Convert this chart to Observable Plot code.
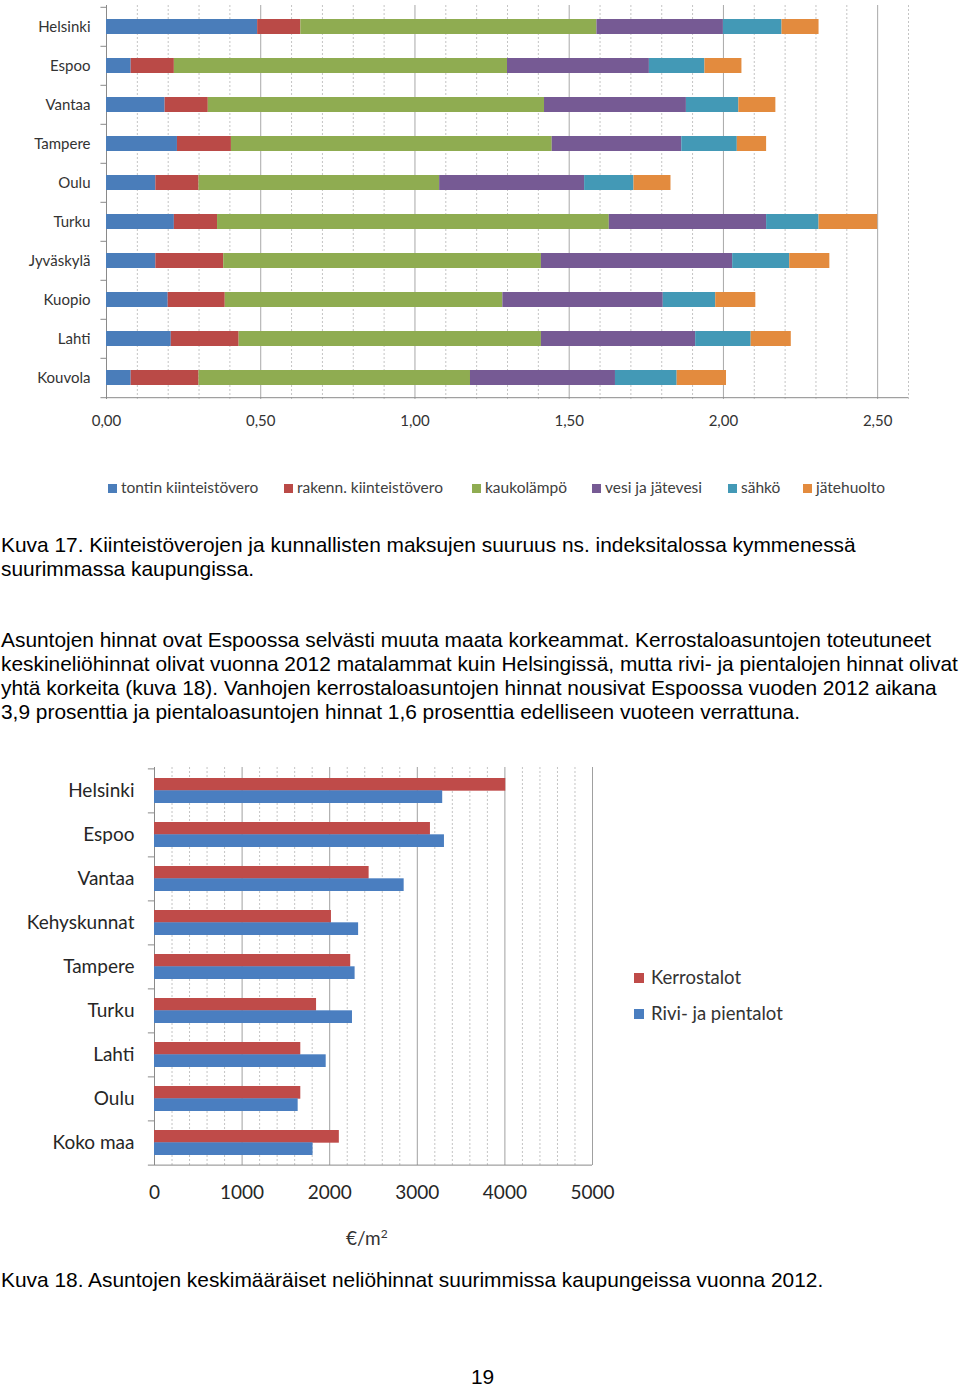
<!DOCTYPE html>
<html><head><meta charset="utf-8">
<script src="https://cdn.jsdelivr.net/npm/d3@7"></script>
<script src="https://cdn.jsdelivr.net/npm/@observablehq/plot@0.6"></script>
<style>
html,body{margin:0;padding:0;background:#fff;}
body{width:960px;height:1387px;position:relative;overflow:hidden;font-family:"Liberation Sans",Arial,sans-serif;}
.abs{position:absolute;white-space:nowrap;}
.para{font-size:20.9px;line-height:24px;color:#000;left:1px;}
.leg1{font-family:Lato,sans-serif;font-size:15.5px;color:#404040;line-height:18px;}
.leg2{font-family:Lato,sans-serif;font-size:18.5px;color:#333;line-height:22px;}
.sw{display:inline-block;width:9px;height:9px;margin-right:4px;vertical-align:0px;}
.sw2{display:inline-block;width:10px;height:10px;margin-right:7px;vertical-align:1px;}
</style></head><body>
<div id="c1" class="abs" style="left:0;top:0"></div>
<div id="leg1"></div>
<div class="abs para" style="top:533px">Kuva 17. Kiinteistöverojen ja kunnallisten maksujen suuruus ns. indeksitalossa kymmenessä</div>
<div class="abs para" style="top:557px">suurimmassa kaupungissa.</div>
<div class="abs para" style="top:628px">Asuntojen hinnat ovat Espoossa selvästi muuta maata korkeammat. Kerrostaloasuntojen toteutuneet</div>
<div class="abs para" style="top:652px">keskineliöhinnat olivat vuonna 2012 matalammat kuin Helsingissä, mutta rivi- ja pientalojen hinnat olivat</div>
<div class="abs para" style="top:676px">yhtä korkeita (kuva 18). Vanhojen kerrostaloasuntojen hinnat nousivat Espoossa vuoden 2012 aikana</div>
<div class="abs para" style="top:700px">3,9 prosenttia ja pientaloasuntojen hinnat 1,6 prosenttia edelliseen vuoteen verrattuna.</div>
<div id="c2" class="abs" style="left:0;top:760px"></div>
<div id="leg2"></div>
<div class="abs leg2" style="left:346px;top:1223px;font-size:19px;">€/m<sup style="font-size:12px">2</sup></div>
<div class="abs para" style="top:1268px">Kuva 18. Asuntojen keskimääräiset neliöhinnat suurimmissa kaupungeissa vuonna 2012.</div>
<div class="abs para" style="top:1365px;left:471px">19</div>
<script>
// ---------- Chart 1 data ----------
const cities1 = ["Helsinki","Espoo","Vantaa","Tampere","Oulu","Turku","Jyväskylä","Kuopio","Lahti","Kouvola"];
const series1 = ["tontin kiinteistövero","rakenn. kiinteistövero","kaukolämpö","vesi ja jätevesi","sähkö","jätehuolto"];
const colors1 = ["#4A7DBA","#BA4A47","#8FAC51","#765A94","#4399B6","#E38B3E"];
const tonttiVero  = [0.49,0.08,0.19,0.23,0.16,0.22,0.16,0.20,0.21,0.08];
const rakennVero  = [0.14,0.14,0.14,0.175,0.14,0.14,0.22,0.185,0.22,0.22];
const kaukolampo  = [0.96,1.08,1.09,1.04,0.78,1.27,1.03,0.90,0.98,0.88];
const vesiJatevesi= [0.41,0.46,0.46,0.42,0.47,0.51,0.62,0.52,0.50,0.47];
const sahko       = [0.19,0.18,0.17,0.18,0.16,0.17,0.185,0.17,0.18,0.20];
const jatehuolto  = [0.12,0.12,0.12,0.095,0.12,0.19,0.13,0.13,0.13,0.16];
const xTicks1 = [0,0.5,1.0,1.5,2.0,2.5];

// ---------- Chart 2 data ----------
const cities2 = ["Helsinki","Espoo","Vantaa","Kehyskunnat","Tampere","Turku","Lahti","Oulu","Koko maa"];
const types2 = ["Kerrostalot","Rivi- ja pientalot"];
const colors2 = ["#BF4B49","#4A7EC0"];
const kerrostalot = [4010,3150,2450,2020,2240,1850,1670,1670,2110];
const rivitalot   = [3290,3310,2850,2330,2290,2260,1960,1640,1810];
const xTicks2 = [0,1000,2000,3000,4000,5000];

// ---------- Chart 1 ----------
const values1 = [tonttiVero,rakennVero,kaukolampo,vesiJatevesi,sahko,jatehuolto];
const table1 = series1.flatMap((s,i)=>cities1.map((c,j)=>({city:c,series:s,value:values1[i][j]})));
const minor1 = d3.range(1,27).map(i=>i/10).filter(v=>Math.abs(v*2-Math.round(v*2))>1e-6);
const H1top=5, H1bot=399, step1=(H1bot-H1top)/cities1.length;
const c1 = Plot.plot({
  width:960, height:440, marginTop:H1top, marginBottom:440-H1bot, marginLeft:106, marginRight:52,
  style:{fontFamily:"Lato, sans-serif", fontSize:"15px", color:"#333", background:"transparent"},
  x:{domain:[0,2.6], ticks:xTicks1, tickFormat:d=>d.toFixed(2).replace(".",","), tickSize:0, tickPadding:16, label:null},
  y:{domain:cities1, paddingInner:0.62, paddingOuter:0.31, tickSize:0, tickPadding:16, label:null},
  color:{domain:series1, range:colors1},
  marks:[
    Plot.ruleX(minor1,{stroke:"#c4c4c4", strokeDasharray:"2,2"}),
    Plot.ruleX(xTicks1.slice(1),{stroke:"#a8a8a8"}),
    Plot.ruleX([0],{stroke:"#8a8a8a"}),
    Plot.barX(table1,{y:"city", x:"value", fill:"series"}),
    Plot.ruleY(cities1,{y:d=>d, x1:-0.018, x2:0, dy:-step1/2, stroke:"#8a8a8a"}),
    Plot.ruleY([cities1[cities1.length-1]],{y:d=>d, x1:-0.018, x2:2.6, dy:step1/2, stroke:"#8a8a8a"})
  ]
});
document.getElementById("c1").appendChild(c1);

const legPos1 = [108,284,472,592,728,803];
const leg1 = document.getElementById("leg1");
series1.forEach((s,i)=>{
  const d=document.createElement("div");
  d.className="abs leg1";
  d.style.left=legPos1[i]+"px"; d.style.top="478px";
  d.innerHTML=`<span class="sw" style="background:${colors1[i]}"></span>${s}`;
  leg1.appendChild(d);
});

// ---------- Chart 2 ----------
const table2 = cities2.flatMap((c,j)=>[
  {city:c,type:types2[0],value:kerrostalot[j]},
  {city:c,type:types2[1],value:rivitalot[j]}
]);
const H2top=7, H2bot=405, step2=(H2bot-H2top)/cities2.length, pIn2=0.443;
const bw2 = step2*(1-pIn2);
const minor2 = d3.range(200,5001,200).filter(v=>v%1000!==0);
const c2 = Plot.plot({
  width:960, height:490, marginTop:H2top, marginBottom:490-H2bot, marginLeft:154, marginRight:368,
  style:{fontFamily:"Lato, sans-serif", fontSize:"19px", color:"#262626", background:"transparent"},
  x:{domain:[0,5000], ticks:xTicks2, tickFormat:d=>String(d), tickSize:0, tickPadding:20, label:null},
  y:{domain:cities2, paddingInner:pIn2, paddingOuter:pIn2/2, tickSize:0, tickPadding:20, label:null},
  color:{domain:types2, range:colors2},
  marks:[
    Plot.ruleX(minor2,{stroke:"#c4c4c4", strokeDasharray:"2,2"}),
    Plot.ruleX(xTicks2.slice(1),{stroke:"#a0a0a0"}),
    Plot.ruleX([0],{stroke:"#8a8a8a"}),
    Plot.barX(table2.filter(d=>d.type===types2[0]),{y:"city", x:"value", fill:"type", insetBottom:bw2/2}),
    Plot.barX(table2.filter(d=>d.type===types2[1]),{y:"city", x:"value", fill:"type", insetTop:bw2/2}),
    Plot.ruleY(cities2,{y:d=>d, x1:-70, x2:0, dy:-step2/2, stroke:"#8a8a8a"}),
    Plot.ruleY([cities2[cities2.length-1]],{y:d=>d, x1:-70, x2:5000, dy:step2/2, stroke:"#8a8a8a"})
  ]
});
document.getElementById("c2").appendChild(c2);

const leg2 = document.getElementById("leg2");
types2.forEach((t,i)=>{
  const d=document.createElement("div");
  d.className="abs leg2";
  d.style.left="634px"; d.style.top=(966+i*36)+"px";
  d.innerHTML=`<span class="sw2" style="background:${colors2[i]}"></span>${t}`;
  leg2.appendChild(d);
});
</script>
</body></html>
